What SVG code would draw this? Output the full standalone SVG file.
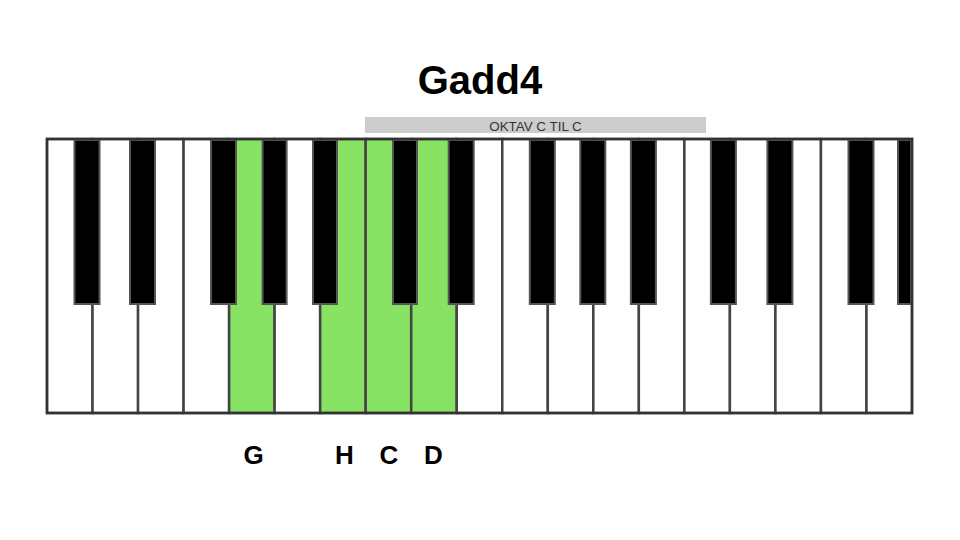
<svg xmlns="http://www.w3.org/2000/svg" width="960" height="540" viewBox="0 0 960 540">
<style>
.w{fill:#ffffff;stroke:#444444;stroke-width:2.5}
.g{fill:#88e264;stroke:#444444;stroke-width:2.5}
.b{fill:#000000;stroke:#555555;stroke-width:2}
.t{font-family:"Liberation Sans",Arial,sans-serif;font-weight:bold;fill:#000000;text-anchor:middle}
.s{font-family:"Liberation Sans",Arial,sans-serif;fill:#333333;text-anchor:middle;font-size:13.4px}
</style>
<rect width="960" height="540" fill="#ffffff"/>
<g id="title"><text class="t" x="480" y="94" font-size="40">Gadd4</text></g>
<g id="octave-bar">
<rect x="365" y="117" width="341" height="16" fill="#cccccc"/>
<text class="s" x="535.5" y="130.5">OKTAV C TIL C</text>
</g>
<g id="white-keys">
<rect id="w0" class="w" x="47" y="139" width="45.53" height="274"/>
<rect id="w1" class="w" x="92.53" y="139" width="45.53" height="274"/>
<rect id="w2" class="w" x="138.05" y="139" width="45.53" height="274"/>
<rect id="w3" class="w" x="183.58" y="139" width="45.53" height="274"/>
<rect id="w4-G" class="g" x="229.1" y="139" width="45.53" height="274"/>
<rect id="w5" class="w" x="274.63" y="139" width="45.53" height="274"/>
<rect id="w6-H" class="g" x="320.16" y="139" width="45.53" height="274"/>
<rect id="w7-C" class="g" x="365.68" y="139" width="45.53" height="274"/>
<rect id="w8-D" class="g" x="411.21" y="139" width="45.53" height="274"/>
<rect id="w9" class="w" x="456.74" y="139" width="45.53" height="274"/>
<rect id="w10" class="w" x="502.26" y="139" width="45.53" height="274"/>
<rect id="w11" class="w" x="547.79" y="139" width="45.53" height="274"/>
<rect id="w12" class="w" x="593.32" y="139" width="45.53" height="274"/>
<rect id="w13" class="w" x="638.84" y="139" width="45.53" height="274"/>
<rect id="w14" class="w" x="684.37" y="139" width="45.53" height="274"/>
<rect id="w15" class="w" x="729.89" y="139" width="45.53" height="274"/>
<rect id="w16" class="w" x="775.42" y="139" width="45.53" height="274"/>
<rect id="w17" class="w" x="820.95" y="139" width="45.53" height="274"/>
<rect id="w18" class="w" x="866.47" y="139" width="45.53" height="274"/>
</g>
<g id="black-keys">
<rect id="b1" class="b" x="74.5" y="140" width="25" height="164"/>
<rect id="b2" class="b" x="130" y="140" width="25" height="164"/>
<rect id="b4" class="b" x="211" y="140" width="25" height="164"/>
<rect id="b5" class="b" x="262.6" y="140" width="24" height="164"/>
<rect id="b6" class="b" x="313" y="140" width="24" height="164"/>
<rect id="b8" class="b" x="393" y="140" width="24" height="164"/>
<rect id="b9" class="b" x="448.7" y="140" width="25" height="164"/>
<rect id="b11" class="b" x="529.8" y="140" width="25" height="164"/>
<rect id="b12" class="b" x="580.3" y="140" width="25" height="164"/>
<rect id="b13" class="b" x="630.9" y="140" width="25" height="164"/>
<rect id="b15" class="b" x="710.9" y="140" width="25" height="164"/>
<rect id="b16" class="b" x="767.4" y="140" width="25" height="164"/>
<rect id="b18" class="b" x="848.5" y="140" width="25" height="164"/>
<rect id="b19" class="b" x="898" y="140" width="13" height="164"/>
</g>
<rect id="frame" x="47" y="139" width="865" height="274" fill="none" stroke="#333333" stroke-width="2.5"/>
<g id="labels">
<text class="t" x="253.5" y="464" font-size="26">G</text>
<text class="t" x="344.5" y="464" font-size="26">H</text>
<text class="t" x="389" y="464" font-size="26">C</text>
<text class="t" x="433.5" y="464" font-size="26">D</text>
</g>
</svg>
